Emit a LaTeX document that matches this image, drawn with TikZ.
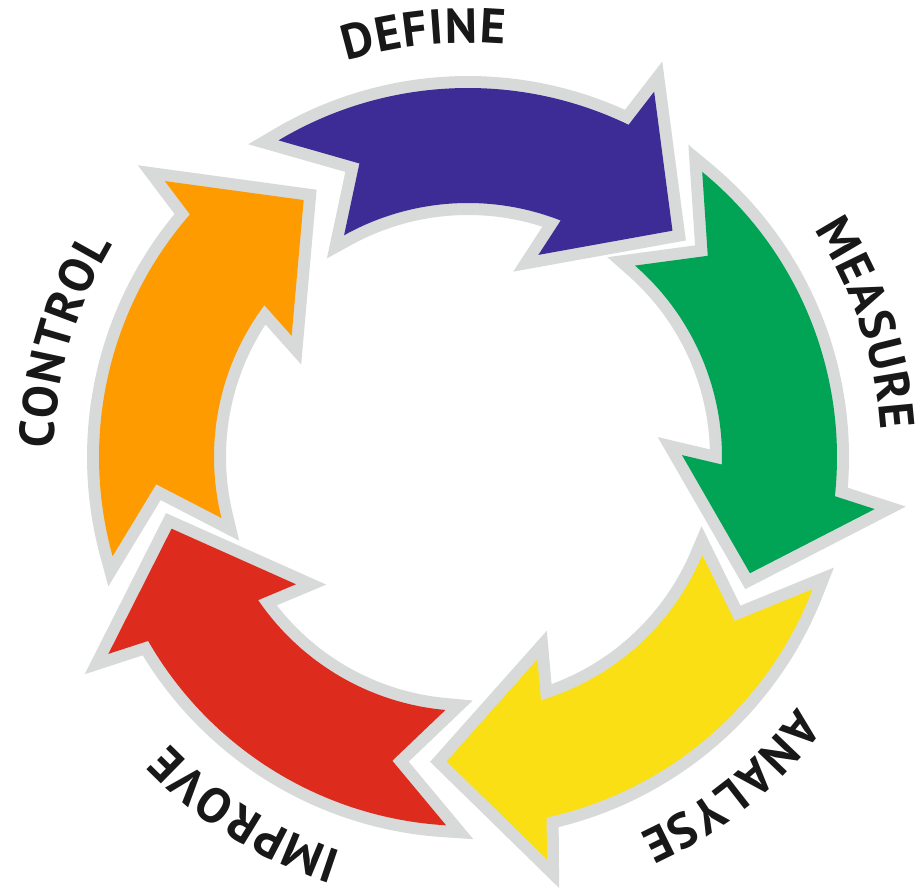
\documentclass[tikz,border=0pt]{standalone}
\usepackage{fontspec}
\newfontfamily\lblfont{PT Sans}
\definecolor{cpurple}{RGB}{61,43,150}
\definecolor{cgreen}{RGB}{0,164,84}
\definecolor{cyellow}{RGB}{249,223,20}
\definecolor{cred}{RGB}{221,43,29}
\definecolor{corange}{RGB}{254,155,0}
\definecolor{cgrey}{RGB}{216,218,217}
\definecolor{ctext}{RGB}{24,24,24}
\newcommand\lblstyle{\lblfont\bfseries\fontsize{49pt}{58pt}\selectfont}
\newlength\lw
\def\lsp{1.2}
\tikzset{
  ringarrow/.style={fill=#1, preaction={draw=cgrey, line width=24pt, line join=miter}},
  lbl/.style={inner sep=0pt, anchor=base, font=\lblstyle, text=ctext}
}
% measure the letters of a word (outside the picture)
\newcommand\prepword[2]{%
  \xdef\awtot{0}%
  \foreach \ch [count=\i] in {#2}{%
    \settowidth\lw{\lblstyle\ch}%
    \expandafter\xdef\csname aw-#1-\i\endcsname{\the\lw}%
    \pgfmathsetmacro\awtmp{\awtot+\lw+\lsp}%
    \xdef\awtot{\awtmp}%
  }%
  \pgfmathsetmacro\awtmp{\awtot-\lsp}%
  \expandafter\xdef\csname awtot-#1\endcsname{\awtmp}%
}
% #1 name, #2 centre angle, #3 baseline radius, #4 letters
\newcommand\arcword[4]{%
  \edef\awtot{\csname awtot-#1\endcsname}%
  \xdef\awacc{0}%
  \foreach \ch [count=\i] in {#4}{%
    \edef\wl{\csname aw-#1-\i\endcsname}%
    \pgfmathsetmacro\awang{#2+(\awtot/2-\awacc-\wl/2)/#3*57.29578}%
    \pgfmathsetmacro\awrot{\awang-90}%
    \node[lbl, rotate=\awrot] (#1-\i) at (\awang:#3pt) {\ch};
    \pgfmathsetmacro\awtmp{\awacc+\wl+\lsp}%
    \xdef\awacc{\awtmp}%
  }%
}
\begin{document}
\prepword{define}{D,E,F,I,N,E}%
\prepword{measure}{M,E,A,S,U,R,E}%
\prepword{analyse}{A,N,A,L,Y,S,E}%
\prepword{improve}{I,M,P,R,O,V,E}%
\prepword{control}{C,O,N,T,R,O,L}%
\begin{tikzpicture}[x=1pt,y=1pt]
\fill[white] (0,0) rectangle (917,888);
\useasboundingbox (0,0) rectangle (917,888);
\begin{scope}[shift={(468,431)}]
\foreach \T/\c in {47.9/cpurple,-22.4/cgreen,-94/cyellow,-166.4/cred,-237.4/corange}{
  \path[ringarrow=\c]
    ({\T}:305pt) -- ({\T+15.1}:410pt) -- ({\T+16.3}:369pt)
    arc[start angle={\T+16.3}, end angle={\T+73}, radius=369pt]
    -- ({\T+62.4}:313pt) -- ({\T+71.3}:254pt)
    arc[start angle={\T+71.3}, end angle={\T+20.7}, radius=254pt]
    -- ({\T+22.9}:214pt) -- cycle;
}
\arcword{define}{96}{414}{D,E,F,I,N,E}
\arcword{measure}{18.5}{414}{M,E,A,S,U,R,E}
\arcword{analyse}{-51.4}{414}{A,N,A,L,Y,S,E}
\arcword{improve}{-122}{414}{I,M,P,R,O,V,E}
\arcword{control}{164}{414}{C,O,N,T,R,O,L}
\end{scope}
\end{tikzpicture}
\end{document}
